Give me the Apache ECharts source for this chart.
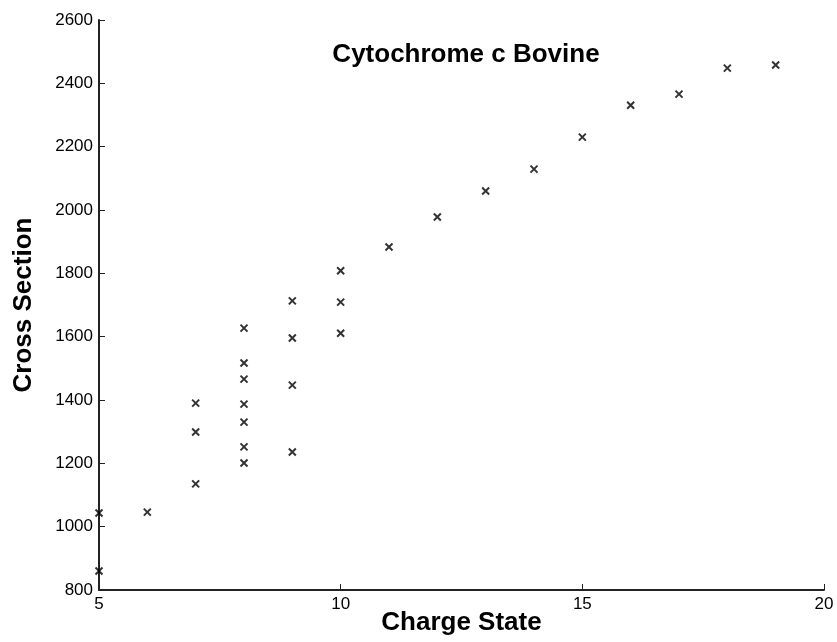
<!DOCTYPE html>
<html>
<head>
<meta charset="utf-8">
<script src="https://cdn.jsdelivr.net/npm/echarts@6/dist/echarts.min.js"></script>
<style>
  html, body { margin: 0; padding: 0; background: #fff; }
  #chart { width: 837px; height: 642px; }
</style>
</head>
<body>
<div id="chart"></div>
<script>
// Charge state of each observed ion
const chargeStates = [5, 5, 6, 7, 7, 7, 8, 8, 8, 8, 8, 8, 8, 9, 9, 9, 9, 10, 10, 10, 11, 12, 13, 14, 15, 16, 17, 18, 19];
// Measured collision cross section for each ion
const crossSections = [1043, 860, 1046, 1390, 1299, 1135, 1627, 1517, 1466, 1387, 1330, 1252, 1201, 1713, 1596, 1447, 1236, 1808, 1709, 1611, 1883, 1978, 2060, 2129, 2230, 2331, 2366, 2448, 2458];

const titleText = 'Cytochrome c Bovine';
const xName = 'Charge State';
const yName = 'Cross Section';

const points = chargeStates.map((c, i) => [c, crossSections[i]]);

const font = 'Liberation Sans, Arial, Helvetica, sans-serif';
const plainNumber = v => String(v);
const chart = echarts.init(document.getElementById('chart'));

chart.setOption({
  backgroundColor: '#ffffff',
  animation: false,
  title: {
    text: titleText,
    left: 461,
    top: 37,
    textAlign: 'center',
    textStyle: { fontFamily: font, fontWeight: 'bold', fontSize: 26, color: '#000' }
  },
  grid: { left: 99, right: 13, top: 20, bottom: 52, containLabel: false, outerBoundsMode: 'none' },
  xAxis: {
    type: 'value',
    min: 5, max: 20, interval: 5,
    name: xName,
    nameLocation: 'middle',
    nameGap: 20,
    nameMoveOverlap: false,
    nameTextStyle: { fontFamily: font, fontWeight: 'bold', fontSize: 26, color: '#000' },
    axisLine: { show: true, lineStyle: { color: '#222', width: 2 } },
    axisTick: { show: true, inside: true, length: 6, lineStyle: { color: '#222', width: 1 } },
    axisLabel: { fontFamily: font, fontSize: 17, color: '#000', margin: 6, formatter: plainNumber },
    splitLine: { show: false }
  },
  yAxis: {
    type: 'value',
    min: 800, max: 2600, interval: 200,
    name: yName,
    nameLocation: 'middle',
    nameGap: 62,
    nameMoveOverlap: false,
    nameTextStyle: { fontFamily: font, fontWeight: 'bold', fontSize: 26, color: '#000' },
    axisLine: { show: true, lineStyle: { color: '#222', width: 2 } },
    axisTick: { show: true, inside: true, length: 6, lineStyle: { color: '#222', width: 1 } },
    axisLabel: { fontFamily: font, fontSize: 17, color: '#000', margin: 6, formatter: plainNumber },
    splitLine: { show: false }
  },
  series: [{
    type: 'scatter',
    data: points,
    symbol: 'path://M0,0L10,10M10,0L0,10',
    symbolSize: 7,
    itemStyle: { color: 'none', borderColor: '#000', borderWidth: 2 }
  }]
});
</script>
</body>
</html>
